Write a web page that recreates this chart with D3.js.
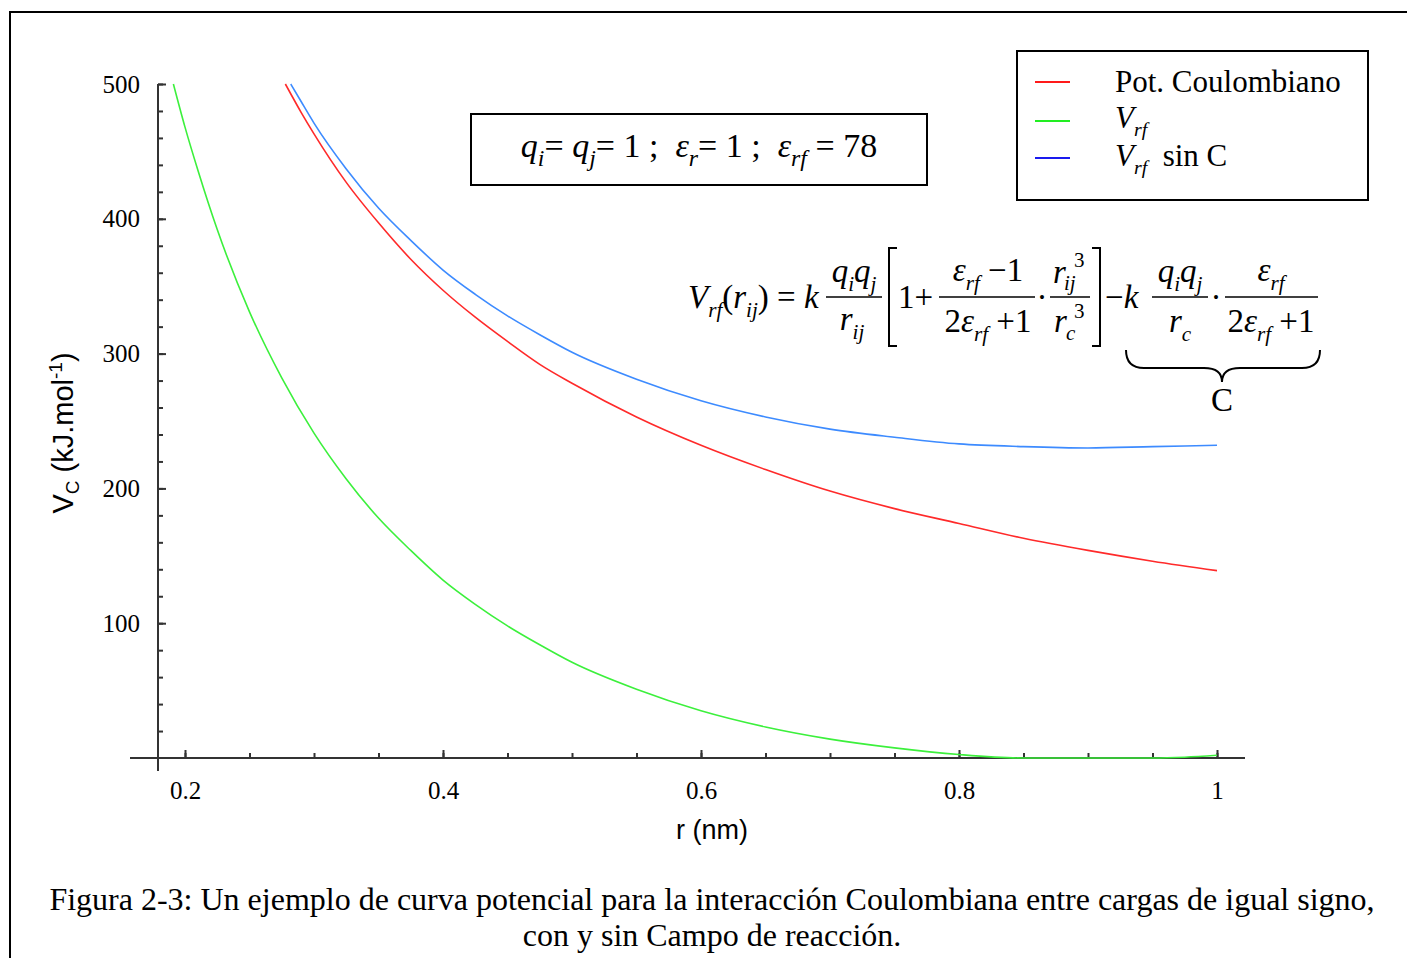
<!DOCTYPE html>
<html>
<head>
<meta charset="utf-8">
<script src="https://cdn.jsdelivr.net/npm/d3@7"></script>
<style>
  body { margin: 0; background: #fff; }
  svg { display: block; }
  text { white-space: pre; }
</style>
</head>
<body>
<div id="node"></div>
<script>
// values (r in nm, V in kJ/mol)
const rCoulomb = [0.2778, 0.29, 0.30, 0.325, 0.35, 0.375, 0.40, 0.425, 0.45, 0.475, 0.50, 0.55, 0.60, 0.65, 0.70, 0.75, 0.80, 0.85, 0.90, 0.95, 1.00];
const vCoulomb = [500, 479, 463, 427, 397, 370, 347, 327, 309, 292, 278, 253, 232, 214, 198, 185, 174, 163, 154, 146, 139];

const rSinC = [0.282, 0.29, 0.30, 0.325, 0.35, 0.375, 0.40, 0.425, 0.45, 0.475, 0.50, 0.55, 0.60, 0.65, 0.70, 0.75, 0.80, 0.85, 0.90, 0.95, 1.00];
const vSinC = [500, 487, 471, 437, 408, 384, 362, 344, 328, 314, 301, 281, 265, 253, 244, 238, 233, 231, 230, 231, 232];

const rVrf = [0.191, 0.20, 0.21, 0.225, 0.25, 0.275, 0.30, 0.325, 0.35, 0.375, 0.40, 0.425, 0.45, 0.475, 0.50, 0.55, 0.60, 0.65, 0.70, 0.75, 0.80, 0.85, 0.90, 0.95, 0.975, 1.00];
const vVrf = [500, 468, 436, 392, 331, 282, 241, 207, 178, 154, 132, 114, 98, 84, 71, 51, 35, 23, 14, 7.5, 2.6, 0, 0, 0, 0.6, 2];

const xMajor = [0.2, 0.4, 0.6, 0.8, 1];
const yMajor = [100, 200, 300, 400, 500];

const seriesNames = ["Pot. Coulombiano", "V_rf", "V_rf sin C"];

const serif = "'Liberation Serif', 'Times New Roman', serif";
const sans = "'Liberation Sans', Arial, sans-serif";

var svg = d3.select("#node")
    .append("svg")
    .attr("width", 1407)
    .attr("height", 958);

// writes text made of pieces: [string, flags] with flags i=italic, b=subscript, p=superscript
function rich(g, px, py, parts, size, anchor, small) {
    small = small || 0.64;
    var t = g.append("text")
        .attr("x", px)
        .attr("y", py)
        .attr("font-family", serif)
        .attr("font-size", size)
        .attr("text-anchor", anchor || "start")
        .attr("fill", "#000");
    var shift = 0;
    parts.forEach(function (p) {
        var flags = p[1] || "";
        var target = flags.includes("b") ? size * 0.26 : (flags.includes("p") ? -size * 0.42 : 0);
        t.append("tspan")
            .attr("dy", target - shift)
            .attr("font-size", (flags.includes("b") || flags.includes("p")) ? size * small : size)
            .attr("font-style", flags.includes("i") ? "italic" : "normal")
            .text(p[0]);
        shift = target;
    });
    return t;
}

// frame of the figure
svg.append("path")
    .attr("d", "M10,958V12H1407")
    .attr("fill", "none")
    .attr("stroke", "#000")
    .attr("stroke-width", 2);

var x = d3.scaleLinear().domain([0.2, 1]).range([185, 1217]);
var y = d3.scaleLinear().domain([0, 500]).range([758, 84]);

// X axis
var gx = svg.append("g").attr("transform", "translate(0,758)");
gx.append("g")
    .call(d3.axisBottom(x).tickValues(d3.range(0.2, 1.001, 0.05)).tickSizeInner(-5).tickSizeOuter(0).tickFormat(""))
    .call(g => g.select(".domain").remove());
gx.append("g")
    .call(d3.axisBottom(x).tickValues(xMajor).tickSizeInner(-8).tickSizeOuter(0).tickPadding(23).tickFormat(d3.format("~g")))
    .call(g => g.select(".domain").remove());
gx.append("line")
    .attr("x1", 130).attr("x2", 1245)
    .attr("y1", 0).attr("y2", 0);

// Y axis
var gy = svg.append("g").attr("transform", "translate(158,0)");
gy.append("g")
    .call(d3.axisLeft(y).tickValues(d3.range(20, 501, 20)).tickSizeInner(-5).tickSizeOuter(0).tickFormat(""))
    .call(g => g.select(".domain").remove());
gy.append("g")
    .call(d3.axisLeft(y).tickValues(yMajor).tickSizeInner(-8).tickSizeOuter(0).tickPadding(18))
    .call(g => g.select(".domain").remove());
gy.append("line")
    .attr("x1", 0).attr("x2", 0)
    .attr("y1", 84).attr("y2", 771);

svg.selectAll("g line, g .tick line")
    .attr("stroke", "#333")
    .attr("stroke-width", 2);
svg.selectAll(".tick text")
    .attr("font-family", serif)
    .attr("font-size", 25)
    .attr("fill", "#000");

// axis titles
svg.append("text")
    .attr("x", 712)
    .attr("y", 839)
    .attr("text-anchor", "middle")
    .attr("font-family", sans)
    .attr("font-size", 27)
    .text("r (nm)");

var yt = svg.append("text")
    .attr("transform", "translate(73,433) rotate(-90)")
    .attr("text-anchor", "middle")
    .attr("font-family", sans)
    .attr("font-size", 29);
yt.append("tspan").text("V");
yt.append("tspan").attr("font-size", 19).attr("dy", 6).text("C");
yt.append("tspan").attr("dy", -6).text(" (kJ.mol");
yt.append("tspan").attr("font-size", 19).attr("dy", -11).text("-1");
yt.append("tspan").attr("dy", 11).text(")");

// curves
var line = d3.line()
    .x(d => x(d[0]))
    .y(d => y(d[1]))
    .curve(d3.curveMonotoneX);

var series = [
    { r: rCoulomb, v: vCoulomb, color: "#ff2a2a" },
    { r: rVrf, v: vVrf, color: "#3cf03c" },
    { r: rSinC, v: vSinC, color: "#3d8bff" }
];
series.forEach(function (s) {
    svg.append("path")
        .datum(s.r.map((r, i) => [r, s.v[i]]))
        .attr("d", line)
        .attr("fill", "none")
        .attr("stroke", s.color)
        .attr("stroke-width", 1.6);
});

// legend
var lg = svg.append("g");
lg.append("rect")
    .attr("x", 1017).attr("y", 51)
    .attr("width", 351).attr("height", 149)
    .attr("fill", "#fff")
    .attr("stroke", "#000")
    .attr("stroke-width", 2);
var legendColors = ["#ff1a1a", "#22ee22", "#1a1aee"];
var legendY = [82, 121, 158];
seriesNames.forEach(function (name, i) {
    lg.append("line")
        .attr("x1", 1035).attr("x2", 1070)
        .attr("y1", legendY[i]).attr("y2", legendY[i])
        .attr("stroke", legendColors[i])
        .attr("stroke-width", 2);
});
rich(lg, 1115, 92, [[seriesNames[0]]], 31);
rich(lg, 1115, 128, [["V", "i"], ["rf", "ib"]], 31);
rich(lg, 1115, 166, [["V", "i"], ["rf", "ib"], ["  sin C"]], 31);

// parameter box
svg.append("rect")
    .attr("x", 471).attr("y", 114)
    .attr("width", 456).attr("height", 71)
    .attr("fill", "none")
    .attr("stroke", "#000")
    .attr("stroke-width", 2);
rich(svg, 699, 157, [
    ["q", "i"], ["i", "ib"], ["= "], ["q", "i"], ["j", "ib"], ["= 1 ;  "],
    ["ε", "i"], ["r", "ib"], ["= 1 ;  "], ["ε", "i"], ["rf", "ib"], [" = 78"]
], 34, "middle", 0.7);

// formula of the reaction field potential
var fm = svg.append("g");
var fs = 33;
function bar(x1, x2) {
    fm.append("line")
        .attr("x1", x1).attr("x2", x2)
        .attr("y1", 297).attr("y2", 297)
        .attr("stroke", "#000")
        .attr("stroke-width", 1.5);
}
rich(fm, 688, 308, [["V", "i"], ["rf", "ib"], ["("], ["r", "i"], ["ij", "ib"], [")"], [" = "], ["k", "i"]], fs);
bar(826, 882);
rich(fm, 854, 282, [["q", "i"], ["i", "ib"], ["q", "i"], ["j", "ib"]], fs, "middle");
rich(fm, 852, 330, [["r", "i"], ["ij", "ib"]], fs, "middle");
fm.append("path")
    .attr("d", "M897,248H889V346H897")
    .attr("fill", "none").attr("stroke", "#000").attr("stroke-width", 2);
rich(fm, 898, 308, [["1+"]], fs);
bar(939, 1035);
rich(fm, 988, 281, [["ε", "i"], ["rf", "ib"], [" −1"]], fs, "middle");
rich(fm, 988, 332, [["2"], ["ε", "i"], ["rf", "ib"], [" +1"]], fs, "middle");
rich(fm, 1042, 308, [["·"]], fs, "middle");
bar(1050, 1090);
rich(fm, 1053, 283, [["r", "i"]], fs);
rich(fm, 1064, 290, [["ij", "i"]], 21);
rich(fm, 1074, 267, [["3"]], 21);
rich(fm, 1054, 332, [["r", "i"]], fs);
rich(fm, 1066, 340, [["c", "i"]], 21);
rich(fm, 1074, 318, [["3"]], 21);
fm.append("path")
    .attr("d", "M1092,248H1100V346H1092")
    .attr("fill", "none").attr("stroke", "#000").attr("stroke-width", 2);
rich(fm, 1105, 308, [["−"], ["k", "i"]], fs);
bar(1152, 1208);
rich(fm, 1180, 282, [["q", "i"], ["i", "ib"], ["q", "i"], ["j", "ib"]], fs, "middle");
rich(fm, 1180, 332, [["r", "i"], ["c", "ib"]], fs, "middle");
rich(fm, 1216, 308, [["·"]], fs, "middle");
bar(1225, 1318);
rich(fm, 1271, 281, [["ε", "i"], ["rf", "ib"]], fs, "middle");
rich(fm, 1271, 332, [["2"], ["ε", "i"], ["rf", "ib"], [" +1"]], fs, "middle");
fm.append("path")
    .attr("d", "M1126,350Q1126,368 1144,368H1204Q1222,368 1222,382Q1222,368 1240,368H1302Q1320,368 1320,350")
    .attr("fill", "none").attr("stroke", "#000").attr("stroke-width", 2);
rich(fm, 1222, 411, [["C"]], fs, "middle");

// caption
rich(svg, 712, 910, [["Figura 2-3: Un ejemplo de curva potencial para la interacción Coulombiana entre cargas de igual signo,"]], 32, "middle");
rich(svg, 712, 946, [["con y sin Campo de reacción."]], 32, "middle");
</script>
</body>
</html>
